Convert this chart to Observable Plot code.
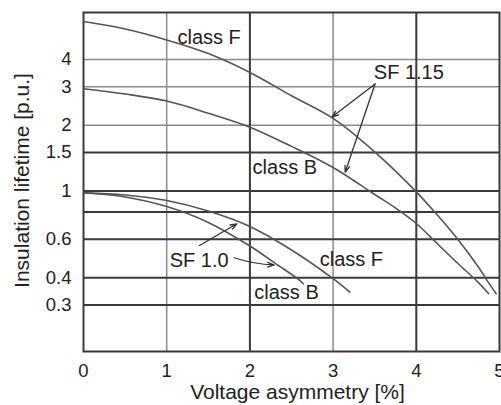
<!DOCTYPE html>
<html><head><meta charset="utf-8">
<script src="https://cdn.jsdelivr.net/npm/d3@7"></script>
<script src="https://cdn.jsdelivr.net/npm/@observablehq/plot@0.6"></script>
<style>html,body{margin:0;padding:0;background:#fff;}</style>
</head><body><div id="chart"></div>
<script>
// Axis ticks
const xTicks = [0, 1, 2, 3, 4, 5];
const yTicks = [0.3, 0.4, 0.6, 0.8, 1, 1.5, 2, 3, 4];
const xHeavy = [2, 4];
const yHeavy = [0.3, 0.4, 0.6, 0.8, 1, 1.5];

// Series: SF 1.15, class F
const sf115F_x = [0, 0.5, 1, 1.5, 2, 2.5, 3, 3.5, 4, 4.25, 4.5, 4.75, 4.85, 4.96];
const sf115F_y = [5.97, 5.52, 4.92, 4.26, 3.49, 2.73, 2.15, 1.51, 0.99, 0.777, 0.599, 0.446, 0.389, 0.338];
// Series: SF 1.15, class B
const sf115B_x = [0, 0.5, 1, 1.5, 2, 2.5, 3, 3.5, 3.75, 4, 4.25, 4.5, 4.75, 4.87];
const sf115B_y = [2.94, 2.78, 2.58, 2.27, 1.96, 1.60, 1.28, 0.963, 0.835, 0.709, 0.574, 0.465, 0.379, 0.338];
// Series: SF 1.0, class F
const sf10F_x = [0, 0.5, 1, 1.5, 2, 2.5, 3, 3.2];
const sf10F_y = [0.98, 0.958, 0.904, 0.809, 0.687, 0.536, 0.396, 0.344];
// Series: SF 1.0, class B
const sf10B_x = [0, 0.5, 1, 1.5, 2, 2.3, 2.6, 2.64];
const sf10B_y = [0.98, 0.938, 0.848, 0.717, 0.559, 0.467, 0.389, 0.375];

const seriesNames = ["SF1.15 F", "SF1.15 B", "SF1.0 F", "SF1.0 B"];
const seriesX = [sf115F_x, sf115B_x, sf10F_x, sf10B_x];
const seriesY = [sf115F_y, sf115B_y, sf10F_y, sf10B_y];
const rows = seriesNames.flatMap((s, i) => seriesX[i].map((x, j) => ({series: s, x, y: seriesY[i][j]})));

// Annotation labels
const labelText = ["class F", "SF 1.15", "class B", "SF 1.0", "class F", "class B"];
const labelX = [1.51, 3.91, 2.42, 1.39, 3.22, 2.44];
const labelY = [5.04, 3.49, 1.28, 0.48, 0.483, 0.3405];
const labels = labelText.map((t, i) => ({t, x: labelX[i], y: labelY[i]}));

const arrows = [
  {x1: 3.504, y1: 3.09, x2: 2.986, y2: 2.18},
  {x1: 3.504, y1: 3.09, x2: 3.145, y2: 1.218},
  {x1: 1.394, y1: 0.562, x2: 1.844, y2: 0.707}
];
const bentArrow = [{x1: 1.811, y1: 0.494, x2: 2.292, y2: 0.4576}];

const font = "'Liberation Sans', Arial, Helvetica, sans-serif";
const dark = "#3a3a3a", light = "#8c8c8c";

const chart = Plot.plot({
  width: 501,
  height: 405,
  marginLeft: 83,
  marginRight: 2,
  marginTop: 12,
  marginBottom: 54,
  style: {fontFamily: font, fontSize: "18.5px", color: "#222", background: "#fff", overflow: "visible"},
  x: {domain: [0, 5]},
  y: {type: "log", domain: [0.1837, 6.57]},
  marks: [
    Plot.ruleX(xTicks.filter(d => !xHeavy.includes(d) && d > 0 && d < 5), {stroke: light, strokeWidth: 1.5}),
    Plot.ruleY(yTicks.filter(d => !yHeavy.includes(d)), {stroke: light, strokeWidth: 1.5}),
    Plot.ruleX(xHeavy, {stroke: dark, strokeWidth: 2}),
    Plot.ruleY(yHeavy, {stroke: dark, strokeWidth: 2}),
    Plot.frame({stroke: dark, strokeWidth: 2}),
    Plot.line(rows, {x: "x", y: "y", z: "series", stroke: "#555", strokeWidth: 1.6, curve: "catmull-rom"}),
    Plot.arrow(arrows, {x1: "x1", y1: "y1", x2: "x2", y2: "y2", stroke: "#333", strokeWidth: 1.3, headLength: 8, headAngle: 40}),
    Plot.arrow(bentArrow, {x1: "x1", y1: "y1", x2: "x2", y2: "y2", stroke: "#333", strokeWidth: 1.3, headLength: 8, headAngle: 40, bend: -8}),
    Plot.text(labels, {x: "x", y: "y", text: "t", fontSize: 20, fill: "#222"}),
    Plot.axisX({ticks: xTicks, tickSize: 0, tickPadding: 12, tickFormat: d => String(d), label: null, fontSize: 18.5}),
    Plot.axisY({ticks: yTicks, tickSize: 0, tickPadding: 12, tickFormat: d => String(d), label: null, fontSize: 18.5}),
    Plot.text(["Voltage asymmetry [%]"], {frameAnchor: "bottom", text: d => d, textAnchor: "middle", lineAnchor: "middle", dx: 6, dy: 41, fontSize: 21, fill: "#222"}),
    Plot.text(["Insulation lifetime [p.u.]"], {frameAnchor: "left", text: d => d, textAnchor: "middle", lineAnchor: "middle", rotate: -90, dx: -61, dy: -1.5, fontSize: 21, fill: "#222"})
  ]
});
document.getElementById("chart").appendChild(chart);
</script>
</body></html>
